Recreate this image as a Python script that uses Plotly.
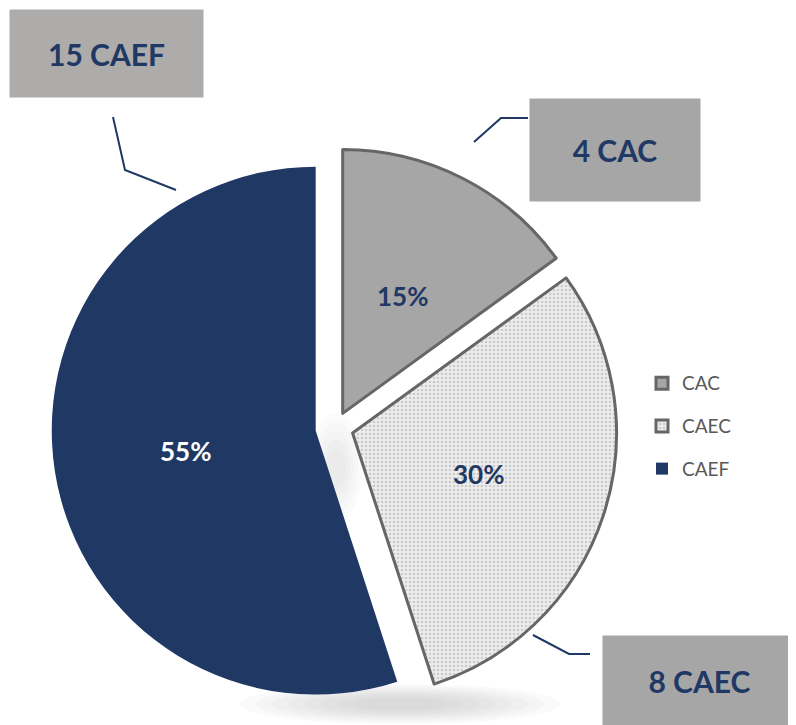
import math
import plotly.graph_objects as go

# ---- data ----
labels = ["CAC", "CAEC", "CAEF"]
counts = [4, 8, 15]          # numbers shown in the call-out boxes
shares = [15, 30, 55]        # percentages shown on the slices
pulls = [0.06, 0.068, 0.076]

W, H = 796, 725
OFF = 8  # page body margin
NAVY = "#1f3864"


def px(x):
    return (x - OFF) / W


def py(y):
    return 1 - (y - OFF) / H


# pie domain (square, in reference pixels)
CX, CY, HALF = 335.5, 427.5, 284.0

fig = go.Figure()

fig.add_trace(go.Pie(
    labels=[f"<span style='font-size:19px;baseline-shift:5px'>{l}</span>" for l in labels],
    values=shares,
    sort=False,
    direction="clockwise",
    rotation=0,
    pull=pulls,
    textinfo="none",
    hovertemplate="%{customdata}: %{value}%<extra></extra>",
    customdata=labels,
    marker=dict(
        colors=["#a6a6a6", "#ededed", NAVY],
        line=dict(color=["#666666", "#666666", NAVY], width=[3, 3, 0]),
        pattern=dict(shape=["", ".", ""], fgcolor="#a9a9a9",
                     bgcolor=["#a6a6a6", "#ededed", NAVY],
                     size=4, solidity=0.35, fillmode="overlay"),
    ),
    domain=dict(x=[px(CX - HALF), px(CX + HALF)], y=[py(CY + HALF), py(CY - HALF)]),
    showlegend=True,
))

shapes = []
# soft shadow under the pie
for i in range(8):
    w = 160 - i * 16
    h = 20 - i * 2
    shapes.append(dict(type="circle", xref="paper", yref="paper",
                       x0=px(400 - w), x1=px(400 + w), y0=py(704 + h), y1=py(704 - h),
                       fillcolor="#8a8a8a", opacity=0.045, line=dict(width=0), layer="below"))
for i in range(5):
    w = 26 - i * 4
    h = 55 - i * 9
    shapes.append(dict(type="circle", xref="paper", yref="paper",
                       x0=px(336 - w), x1=px(336 + w), y0=py(468 + h), y1=py(468 - h),
                       fillcolor="#8a8a8a", opacity=0.035, line=dict(width=0), layer="below"))

# leader lines
for pts in [[(113, 117), (125, 170), (176, 190)],
            [(474, 142), (501, 118), (528, 118)],
            [(533, 635), (569, 654), (590, 654)]]:
    path = "M " + " L ".join(f"{px(x)},{py(y)}" for x, y in pts)
    shapes.append(dict(type="path", xref="paper", yref="paper", path=path,
                       line=dict(color=NAVY, width=2)))

annotations = []

# percentage labels, placed halfway along each (pulled) slice bisector
r = HALF / (1 + max(pulls))
total = sum(shares)
start = 0.0
for s, p, lab in zip(shares, pulls, labels):
    mid = (start + s / 2) / total * 2 * math.pi
    start += s
    d = p * r + 0.5 * r
    tx = CX + d * math.sin(mid)
    ty = CY - d * math.cos(mid)
    annotations.append(dict(
        text=f"<b>{s}%</b>", xref="paper", yref="paper", x=px(tx), y=py(ty),
        xanchor="center", yanchor="middle", showarrow=False,
        font=dict(family="Lato", size=26, color="white" if lab == "CAEF" else NAVY),
    ))

box_specs = {
    "CAEF": dict(cx=106.5, cy=53.5, w=193, h=87, bg="#aeabab"),
    "CAC": dict(cx=615, cy=150, w=170, h=102, bg="#a6a6a6"),
    "CAEC": dict(cx=699.5, cy=681, w=193, h=90, bg="#a6a6a6"),
}
for lab, cnt in zip(labels, counts):
    b = box_specs[lab]
    annotations.append(dict(
        text=f"<b>{cnt} {lab}</b>", xref="paper", yref="paper",
        x=px(b["cx"]), y=py(b["cy"]), xanchor="center", yanchor="middle",
        showarrow=False, width=b["w"], height=b["h"], bgcolor=b["bg"],
        borderpad=0, font=dict(family="Lato", size=30, color=NAVY),
    ))

fig.update_layout(
    width=W, height=H,
    margin=dict(l=0, r=0, t=0, b=0),
    paper_bgcolor="white",
    plot_bgcolor="white",
    shapes=shapes,
    annotations=annotations,
    legend=dict(x=px(642), y=py(357), xanchor="left", yanchor="top",
                font=dict(family="Lato", size=30.5, color="#595959"),
                bgcolor="rgba(0,0,0,0)", itemwidth=30, traceorder="normal"),
)

fig.write_html("out.html")
